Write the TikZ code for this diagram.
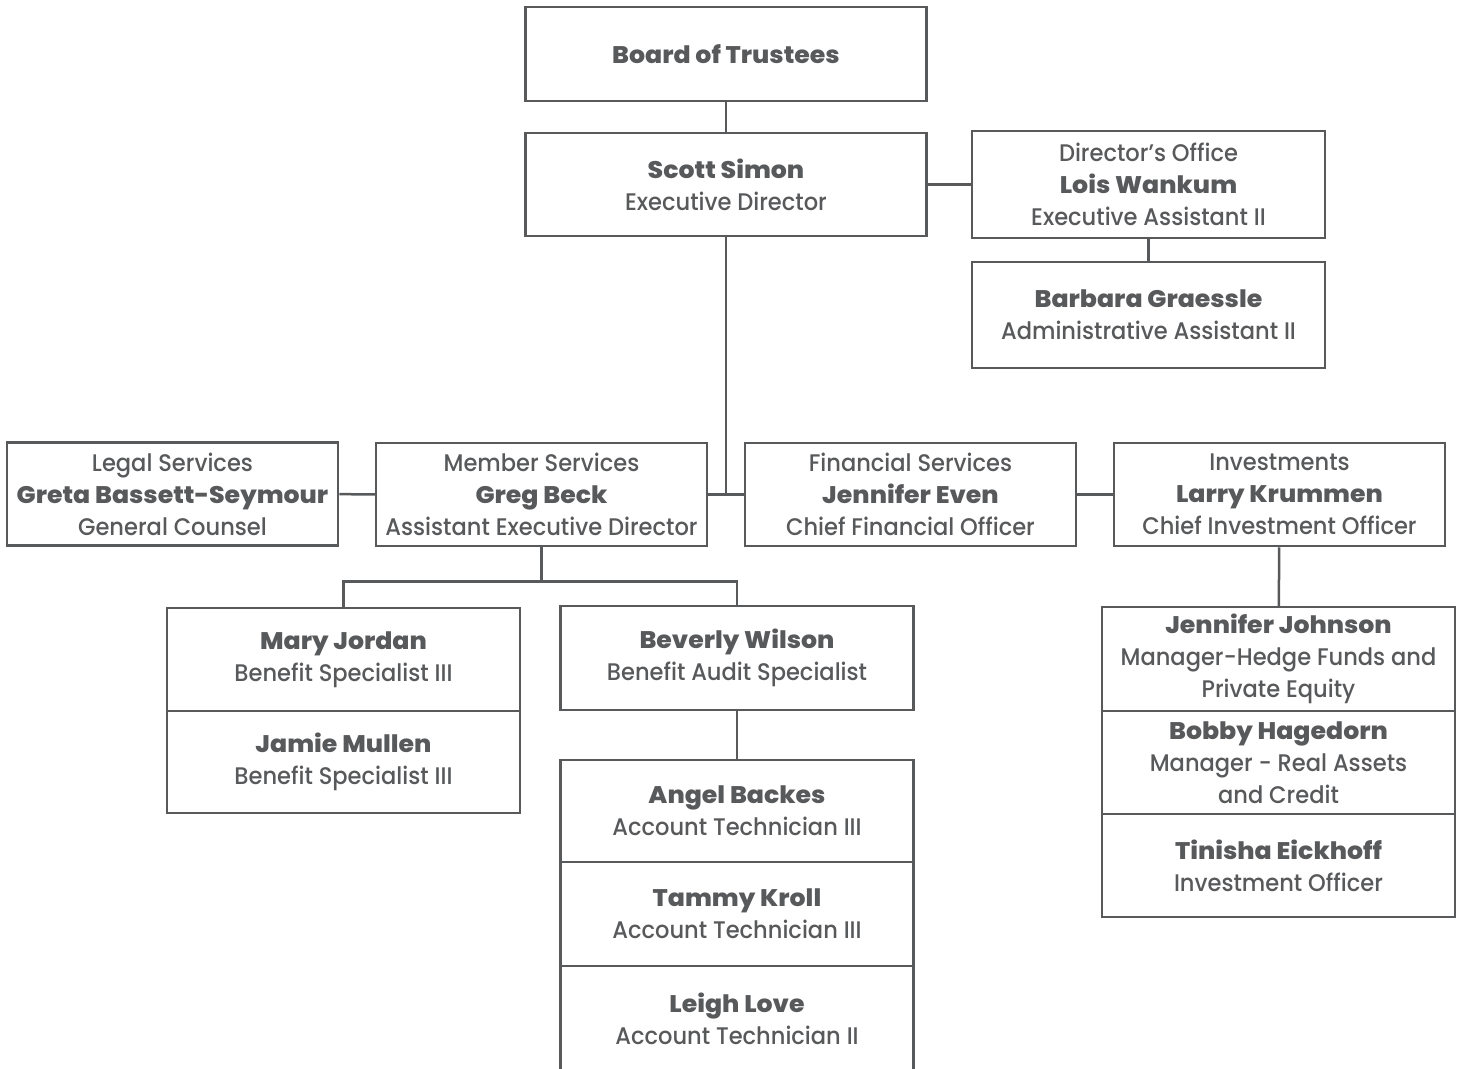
\documentclass[tikz,border=0pt]{standalone}
\usepackage{fontspec}
\setmainfont{Poppins}[UprightFont={* Medium},BoldFont={* ExtraBold},
    UprightFeatures={FakeStretch=0.94},BoldFeatures={FakeStretch=1.05}]
\usepackage{tikz}
\usetikzlibrary{positioning}
\definecolor{ink}{HTML}{58595B}

\begin{document}
\begin{tikzpicture}[x=1pt,y=-1pt,
    unit/.style={draw=ink,line width=2.5pt,fill=white,text=ink,align=center,inner sep=0pt,
        font=\fontsize{24}{32}\selectfont},
    wide/.style={unit,minimum width=401pt},
    mid/.style={unit,minimum width=353pt},
    dept/.style={unit,minimum width=331pt,minimum height=103pt},
    link/.style={draw=ink,line width=2.5pt}]
    \useasboundingbox (0,0) rectangle (1464,1068);
    \node[wide,minimum height=94pt] (a) at (726,54) {\textbf{Board of Trustees}};
    \node[wide,minimum height=103pt] (b) at (726,184.5) {\textbf{Scott Simon}\\Executive Director};
    \node[mid,minimum height=107pt] (c) at (1148.5,184.5) {Director’s Office\\\textbf{Lois Wankum}\\Executive Assistant II};
    \node[mid,minimum height=106pt] (d) at (1148.5,315) {\textbf{Barbara Graessle}\\Administrative Assistant II};
    \node[dept] (e) at (172.5,494) {Legal Services\\\textbf{Greta Bassett-Seymour}\\General Counsel};
    \node[dept] (f) at (541.5,494.5) {Member Services\\\textbf{Greg Beck}\\Assistant Executive Director};
    \node[dept] (g) at (910.5,494.5) {Financial Services\\\textbf{Jennifer Even}\\Chief Financial Officer};
    \node[dept] (h) at (1279.5,494.5) {Investments\\\textbf{Larry Krummen}\\Chief Investment Officer};
    \node[mid,minimum height=103pt] (i) at (343.5,659.5) {\textbf{Mary Jordan}\\Benefit Specialist III};
    \node[mid,minimum height=102pt] (j) at (343.5,762) {\textbf{Jamie Mullen}\\Benefit Specialist III};
    \node[mid,minimum height=104pt] (k) at (737,658) {\textbf{Beverly Wilson}\\Benefit Audit Specialist};
    \node[mid,minimum height=102pt] (l) at (737,811) {\textbf{Angel Backes}\\Account Technician III};
    \node[mid,minimum height=104pt] (m) at (737,914) {\textbf{Tammy Kroll}\\Account Technician III};
    \node[mid,minimum height=106pt] (n) at (737,1019) {\textbf{Leigh Love}\\Account Technician II};
    \node[mid,minimum height=104pt] (o) at (1278.5,659) {\textbf{Jennifer Johnson}\\Manager-Hedge Funds and\\Private Equity};
    \node[mid,minimum height=103pt] (p) at (1278.5,762.5) {\textbf{Bobby Hagedorn}\\Manager - Real Assets\\and Credit};
    \node[mid,minimum height=103pt] (q) at (1278.5,865.5) {\textbf{Tinisha Eickhoff}\\Investment Officer};
    \draw[link] (a) -- (b);
    \draw[link] (b) -- (c);
    \draw[link] (c) -- (d);
    \draw[link] (b) -- (b |- f.east);
    \draw[link] (e) -- (f);
    \draw[link] (f) -- (g);
    \draw[link] (g) -- (h);
    \draw[link] (f.south) -- ++(0,34) coordinate (fs) -| (i.north);
    \draw[link] (fs) -| (k.north);
    \draw[link] (k) -- (l);
    \draw[link] (h) -- (o);
\end{tikzpicture}
\end{document}
